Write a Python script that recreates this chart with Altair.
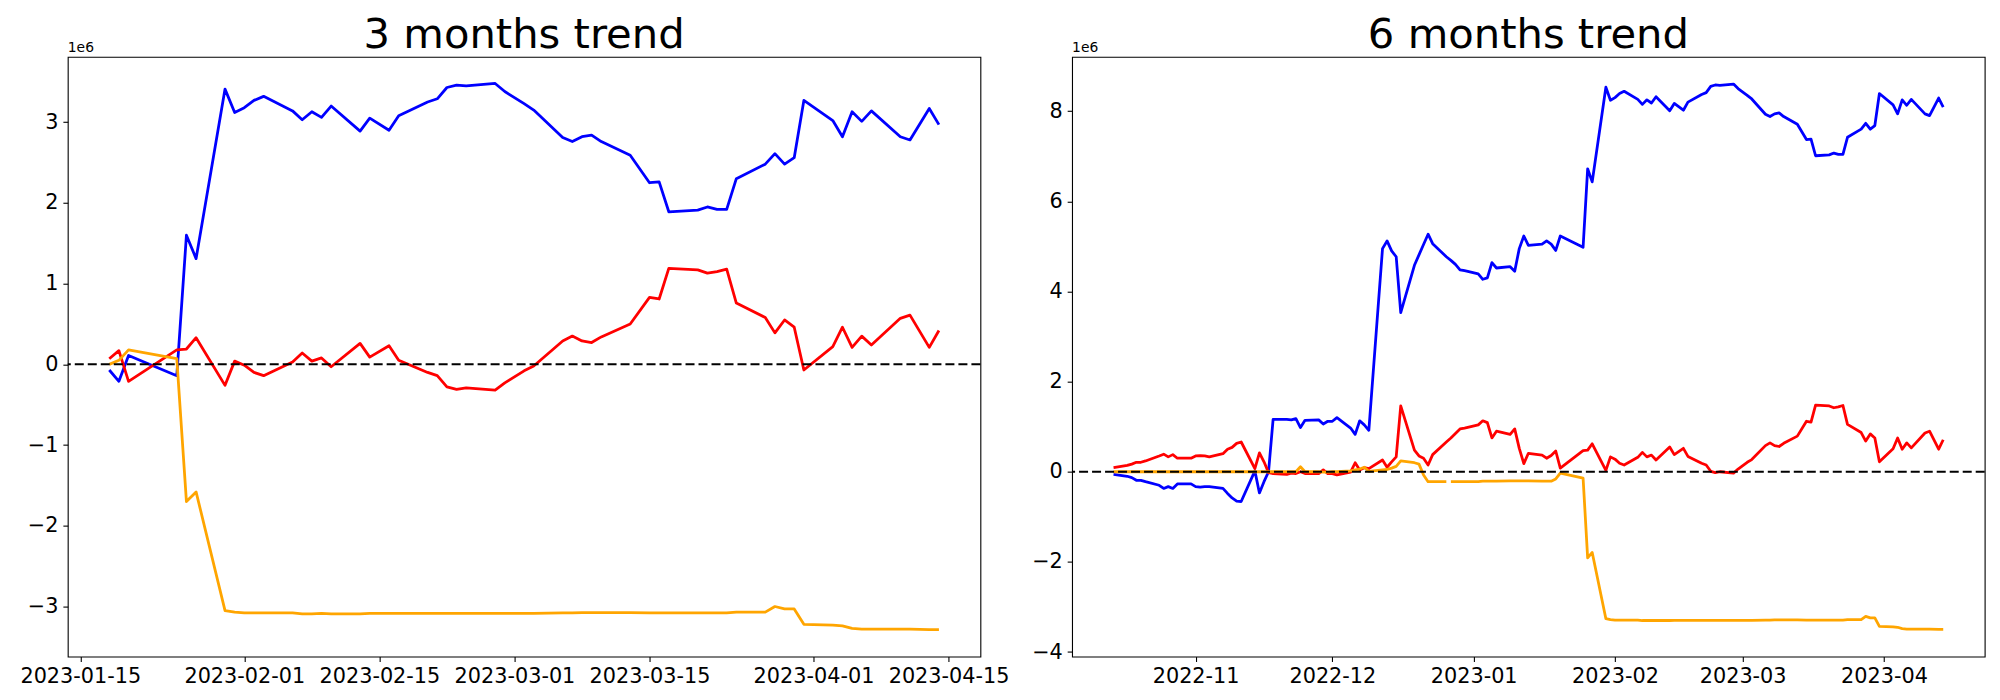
import altair as alt
import pandas as pd

FONT = "DejaVu Sans"

# ---------------- 3 months panel ----------------
dates_3m = [
    "2023-01-18", "2023-01-19", "2023-01-20", "2023-01-25", "2023-01-26", "2023-01-27", "2023-01-30", "2023-01-31",
    "2023-02-01", "2023-02-02", "2023-02-03", "2023-02-06", "2023-02-07", "2023-02-08", "2023-02-09", "2023-02-10",
    "2023-02-13", "2023-02-14", "2023-02-16", "2023-02-17", "2023-02-20", "2023-02-21", "2023-02-22", "2023-02-23",
    "2023-02-24", "2023-02-27", "2023-02-28",
    "2023-03-02", "2023-03-03", "2023-03-06", "2023-03-07", "2023-03-08", "2023-03-09", "2023-03-10", "2023-03-13",
    "2023-03-15", "2023-03-16", "2023-03-17", "2023-03-20", "2023-03-21", "2023-03-22", "2023-03-23", "2023-03-24",
    "2023-03-27", "2023-03-28", "2023-03-29", "2023-03-30", "2023-03-31",
    "2023-04-03", "2023-04-04", "2023-04-05", "2023-04-06", "2023-04-07", "2023-04-10", "2023-04-11", "2023-04-13",
    "2023-04-14",
]
blue_3m = [
    -0.07, -0.21, 0.11, -0.14, 1.60, 1.31, 3.41, 3.12,
    3.18, 3.27, 3.32, 3.14, 3.03, 3.13, 3.06, 3.20, 2.89, 3.05, 2.90, 3.08, 3.25, 3.29, 3.43, 3.46, 3.45, 3.48, 3.38,
    3.23, 3.15, 2.81, 2.76, 2.82, 2.84, 2.76, 2.59, 2.25, 2.26, 1.89, 1.91, 1.95, 1.92, 1.92, 2.30, 2.48, 2.61, 2.48,
    2.56, 3.27,
    3.02, 2.82, 3.13, 3.01, 3.14, 2.82, 2.78, 3.17, 2.97,
]
red_3m = [
    0.07, 0.17, -0.21, 0.18, 0.19, 0.33, -0.26, 0.04,
    -0.01, -0.10, -0.14, 0.03, 0.14, 0.04, 0.08, -0.03, 0.26, 0.09, 0.23, 0.05, -0.10, -0.14, -0.28, -0.31, -0.29,
    -0.32, -0.23,
    -0.08, -0.02, 0.29, 0.35, 0.29, 0.27, 0.34, 0.50, 0.83, 0.81, 1.19, 1.17, 1.13, 1.15, 1.18, 0.76, 0.58, 0.39, 0.55,
    0.46, -0.07,
    0.22, 0.46, 0.21, 0.35, 0.24, 0.57, 0.61, 0.21, 0.42,
]
orange_3m = [
    0.00, 0.05, 0.18, 0.07, -1.70, -1.58, -3.05, -3.07,
    -3.08, -3.08, -3.08, -3.08, -3.09, -3.09, -3.085, -3.09, -3.09, -3.085, -3.085, -3.085, -3.085, -3.085, -3.085,
    -3.085, -3.085, -3.085, -3.085,
    -3.085, -3.085, -3.08, -3.08, -3.075, -3.075, -3.075, -3.075, -3.08, -3.08, -3.08, -3.08, -3.08, -3.08, -3.08,
    -3.07, -3.07, -3.00, -3.03, -3.03, -3.22,
    -3.23, -3.24, -3.27, -3.28, -3.28, -3.28, -3.28, -3.285, -3.285,
]

# ---------------- 6 months panel ----------------
dates_6m_early = [
    "2022-10-14", "2022-10-17", "2022-10-18", "2022-10-19", "2022-10-20", "2022-10-21", "2022-10-24", "2022-10-25",
    "2022-10-26", "2022-10-27", "2022-10-28", "2022-10-31",
    "2022-11-01", "2022-11-02", "2022-11-03", "2022-11-04", "2022-11-07", "2022-11-08", "2022-11-09", "2022-11-10",
    "2022-11-11", "2022-11-14", "2022-11-15", "2022-11-16", "2022-11-17", "2022-11-18", "2022-11-21", "2022-11-22",
    "2022-11-23", "2022-11-24", "2022-11-25", "2022-11-28", "2022-11-29", "2022-11-30",
    "2022-12-01", "2022-12-02", "2022-12-05", "2022-12-06", "2022-12-07", "2022-12-08", "2022-12-09", "2022-12-12",
    "2022-12-13", "2022-12-14", "2022-12-15", "2022-12-16", "2022-12-19", "2022-12-20", "2022-12-21", "2022-12-22",
    "2022-12-23", "2022-12-26", "2022-12-27", "2022-12-28", "2022-12-29", "2022-12-30",
    "2023-01-02", "2023-01-03", "2023-01-04", "2023-01-05", "2023-01-06", "2023-01-09", "2023-01-10", "2023-01-11",
    "2023-01-12", "2023-01-13", "2023-01-16", "2023-01-17",
]
dates_6m = dates_6m_early + dates_3m
blue_6m = [
    -0.06, -0.10, -0.13, -0.19, -0.19, -0.22, -0.30, -0.37, -0.33, -0.37, -0.27, -0.27,
    -0.33, -0.34, -0.33, -0.33, -0.37, -0.48, -0.58, -0.65, -0.66, 0.02, -0.47, -0.22, 0.00, 1.16, 1.16, 1.15, 1.18,
    0.98, 1.14, 1.15, 1.06, 1.12,
    1.12, 1.20, 0.97, 0.83, 1.13, 1.04, 0.92, 4.95, 5.12, 4.90, 4.77, 3.53, 4.58, 4.81, 5.04, 5.27, 5.06, 4.77, 4.69,
    4.60, 4.48, 4.46,
    4.39, 4.27, 4.30, 4.64, 4.52, 4.55, 4.45, 4.95, 5.23, 5.02, 5.05, 5.12,
    5.05, 4.91, 5.23, 4.98, 6.72, 6.43, 8.53, 8.24,
    8.30, 8.39, 8.44, 8.26, 8.15, 8.25, 8.18, 8.32, 8.01, 8.17, 8.02, 8.20, 8.37, 8.41, 8.55, 8.58, 8.57, 8.60, 8.50,
    8.35, 8.27, 7.93, 7.88, 7.94, 7.96, 7.88, 7.71, 7.37, 7.38, 7.01, 7.03, 7.07, 7.04, 7.04, 7.42, 7.60, 7.73, 7.60,
    7.68, 8.39,
    8.14, 7.94, 8.25, 8.13, 8.26, 7.94, 7.90, 8.29, 8.09,
]
red_6m = [
    0.09, 0.14, 0.17, 0.21, 0.21, 0.24, 0.35, 0.39, 0.33, 0.38, 0.30, 0.30,
    0.35, 0.36, 0.35, 0.33, 0.40, 0.50, 0.54, 0.63, 0.66, 0.07, 0.42, 0.22, -0.02, -0.04, -0.06, -0.03, -0.04, 0.00,
    -0.04, -0.04, 0.04, -0.04,
    -0.04, -0.07, -0.01, 0.20, 0.04, 0.09, 0.07, 0.26, 0.10, 0.22, 0.33, 1.46, 0.48, 0.35, 0.30, 0.15, 0.38, 0.66,
    0.75, 0.85, 0.95, 0.97,
    1.04, 1.13, 1.09, 0.75, 0.90, 0.83, 0.95, 0.52, 0.18, 0.41, 0.37, 0.30,
    0.36, 0.46, 0.08, 0.47, 0.48, 0.62, 0.03, 0.33,
    0.28, 0.19, 0.15, 0.32, 0.43, 0.33, 0.37, 0.26, 0.55, 0.38, 0.52, 0.34, 0.19, 0.15, 0.01, -0.02, 0.00, -0.03, 0.06,
    0.21, 0.27, 0.58, 0.64, 0.58, 0.56, 0.63, 0.79, 1.12, 1.10, 1.48, 1.46, 1.42, 1.44, 1.47, 1.05, 0.87, 0.68, 0.84,
    0.75, 0.22,
    0.51, 0.75, 0.50, 0.64, 0.53, 0.86, 0.90, 0.50, 0.71,
]
orange_6m = [
    0.00, 0.00, 0.00, 0.00, 0.00, 0.00, 0.00, 0.00, 0.00, 0.00, 0.00, 0.00,
    0.00, 0.00, 0.00, 0.00, 0.00, 0.00, 0.00, 0.00, 0.00, 0.00, 0.00, 0.00, 0.00, 0.00, 0.00, 0.00, 0.00, 0.11,
    0.00, 0.00, -0.01, -0.01,
    0.00, 0.00, 0.02, 0.04, 0.06, 0.10, 0.01, 0.04, 0.05, 0.08, 0.12, 0.24, 0.20, 0.17, -0.07, -0.22, -0.22, -0.22,
    -0.22, -0.22, -0.22, -0.22,
    -0.22, -0.21, -0.21, -0.21, -0.21, -0.20, -0.20, -0.20, -0.20, -0.20, -0.21, -0.21,
    -0.21, -0.16, -0.03, -0.14, -1.91, -1.79, -3.26, -3.28,
    -3.29, -3.29, -3.29, -3.29, -3.30, -3.30, -3.295, -3.30, -3.30, -3.295, -3.295, -3.295, -3.295, -3.295, -3.295,
    -3.295, -3.295, -3.295, -3.295,
    -3.295, -3.295, -3.29, -3.29, -3.285, -3.285, -3.285, -3.285, -3.29, -3.29, -3.29, -3.29, -3.29, -3.29, -3.29,
    -3.28, -3.28, -3.21, -3.24, -3.24, -3.43,
    -3.44, -3.45, -3.48, -3.49, -3.49, -3.49, -3.49, -3.495, -3.495,
]
# the orange line of the 6 months panel is broken (missing value) just before this date
orange_6m_break_before = ["2022-12-27"]

series_names = ["blue", "red", "orange"]
series_colors = ["#0000ff", "#ff0000", "#ffa500"]


def to_long(dates, blue, red, orange, breaks=()):
    rows = []
    for name, vals in zip(series_names, [blue, red, orange]):
        seg = 0
        for d, v in zip(dates, vals):
            if name == "orange" and d in breaks:
                seg += 1
            rows.append({"date": d, "value": v, "series": name, "seg": f"{name}-{seg}"})
    return pd.DataFrame(rows)


df3 = to_long(dates_3m, blue_3m, red_3m, orange_3m)
df6 = to_long(dates_6m, blue_6m, red_6m, orange_6m, orange_6m_break_before)

W, H = 913, 600


def dt(y, m, d, h=0, mi=0):
    return alt.DateTime(year=y, month=m, date=d, hours=h, minutes=mi, utc=True)


def panel(df, title, x_domain, x_ticks, x_fmt, y_domain, y_ticks):
    lines = alt.Chart(df).mark_line(strokeWidth=2.78, strokeJoin="round", strokeCap="butt").encode(
        x=alt.X(
            "date:T",
            scale=alt.Scale(type="utc", domain=x_domain, nice=False),
            axis=alt.Axis(values=x_ticks, format=x_fmt, title=None, labelFlush=False,
                          labelOverlap=False, labelBound=False),
        ),
        y=alt.Y(
            "value:Q",
            scale=alt.Scale(domain=y_domain, nice=False, zero=False),
            axis=alt.Axis(values=y_ticks, format="d", title=None),
        ),
        color=alt.Color("series:N", scale=alt.Scale(domain=series_names, range=series_colors), legend=None),
        detail="seg:N",
    )
    zero = alt.Chart(pd.DataFrame({"z": [0]})).mark_rule(
        color="black", strokeWidth=2.0, strokeDash=[9, 4]
    ).encode(y="z:Q")
    ttl = alt.Chart(pd.DataFrame({"t": [title]})).mark_text(
        font=FONT, fontSize=41.7, align="center", baseline="alphabetic", color="black"
    ).encode(text="t:N", x=alt.value(W / 2), y=alt.value(-8.6))
    off = alt.Chart(pd.DataFrame({"t": ["1e6"]})).mark_text(
        font=FONT, fontSize=13.9, align="left", baseline="alphabetic", color="black"
    ).encode(text="t:N", x=alt.value(0), y=alt.value(-4.6))
    return alt.layer(lines, zero, ttl, off).properties(width=W, height=H)


left = panel(
    df3,
    "3 months trend",
    [dt(2023, 1, 13, 16, 48), dt(2023, 4, 18, 7, 12)],
    [dt(2023, 1, 15), dt(2023, 2, 1), dt(2023, 2, 15), dt(2023, 3, 1), dt(2023, 3, 15), dt(2023, 4, 1), dt(2023, 4, 15)],
    "%Y-%m-%d",
    [-3.62, 3.81],
    [-3, -2, -1, 0, 1, 2, 3],
)
right = panel(
    df6,
    "6 months trend",
    [dt(2022, 10, 4, 21, 36), dt(2023, 4, 23, 2, 24)],
    [dt(2022, 11, 1), dt(2022, 12, 1), dt(2023, 1, 1), dt(2023, 2, 1), dt(2023, 3, 1), dt(2023, 4, 1)],
    "%Y-%m",
    [-4.10, 9.205],
    [-4, -2, 0, 2, 4, 6, 8],
)

chart = alt.hconcat(left, right, spacing=91.7, bounds="flush").properties(
    padding={"left": 10.8, "top": 5.7, "right": 5, "bottom": 5}
).configure_view(
    stroke="black", strokeWidth=1.1
).configure_axis(
    labelFont=FONT, labelFontSize=20.8, labelColor="black", tickColor="black", tickWidth=1.1,
    tickSize=4.9, labelPadding=4.9, domain=False, grid=False,
)

chart.save("out.html", embed_options={"renderer": "svg", "actions": False})
